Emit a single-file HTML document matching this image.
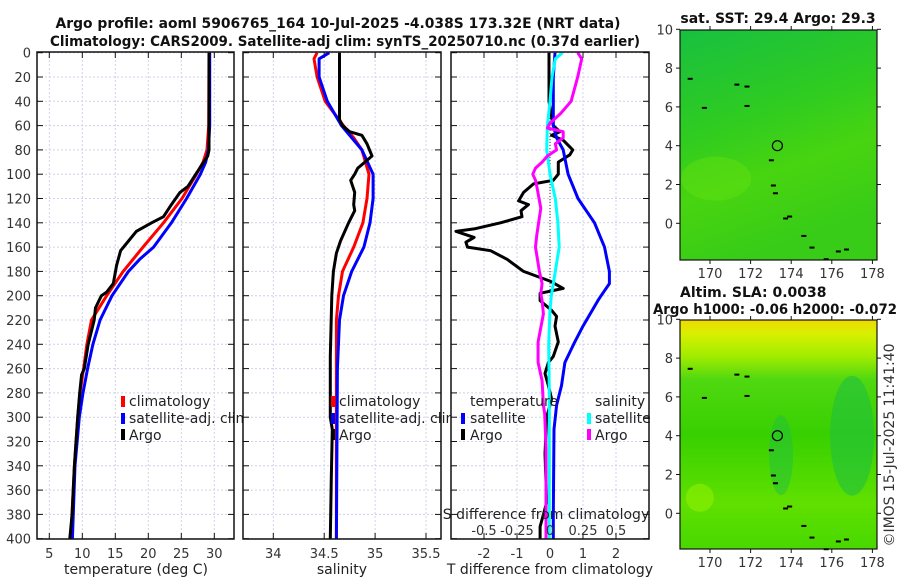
<!DOCTYPE html>
<html><head><meta charset="utf-8"><style>
html,body{margin:0;padding:0;background:#fff;}
svg{display:block;font-family:"DejaVu Sans","Liberation Sans",sans-serif;}
.tk{font-size:13px;fill:#333;}
.lab{font-size:14px;fill:#222;}
.ttl{font-size:14px;font-weight:bold;fill:#111;}
</style></head><body>
<svg id="fig" width="900" height="580" viewBox="0 0 900 580" xmlns="http://www.w3.org/2000/svg">
<defs>
<linearGradient id="g1" x1="0" y1="0" x2="0.3" y2="1">
<stop offset="0" stop-color="#18c040"/><stop offset="0.45" stop-color="#30cc20"/><stop offset="0.7" stop-color="#48d410"/><stop offset="1" stop-color="#38cc18"/></linearGradient>
<linearGradient id="g2" x1="0" y1="0" x2="0" y2="1">
<stop offset="0" stop-color="#f0d800"/><stop offset="0.06" stop-color="#d8f000"/><stop offset="0.16" stop-color="#a0ec00"/><stop offset="0.26" stop-color="#50d810"/><stop offset="0.5" stop-color="#38d000"/><stop offset="0.8" stop-color="#60e000"/><stop offset="1" stop-color="#48d800"/></linearGradient>
<clipPath id="c1"><rect x="37" y="52" width="197" height="487"/></clipPath>
<clipPath id="c2"><rect x="243" y="52" width="198" height="487"/></clipPath>
<clipPath id="c3"><rect x="451" y="52" width="198" height="487"/></clipPath>
</defs>
<g id="root"></g>
</svg>
<script>
// ---- data ----
const depthTicks=[0,20,40,60,80,100,120,140,160,180,200,220,240,260,280,300,320,340,360,380,400];
const tTicks=[5,10,15,20,25,30];
const sTicks=[34,34.5,35,35.5];
const sTickLabels=["34","34.5","35","35.5"];
const dTTicks=[-2,-1,0,1,2];
const dSTicks=[-0.5,-0.25,0,0.25,0.5];
const dSTickLabels=["-0.5","-0.25","0","0.25","0.5"];

const tClimD=[0,60,80,90,100,110,120,140,160,180,200,220,240,260,280,300,340,400];
const tClimV=[29.2,29.15,28.9,28.3,27.3,26.2,25.1,22.3,19.2,16.2,13.7,11.4,10.7,10.2,9.65,9.3,8.8,8.25];
const tSatD=[0,60,80,90,100,120,140,160,170,180,200,220,240,260,280,300,340,400];
const tSatV=[29.3,29.3,29.1,28.7,27.9,25.8,23.5,20.8,18.7,17.0,14.5,12.7,11.6,10.8,10.1,9.55,8.9,8.5];
const tArgoD=[0,80,85,90,100,110,115,125,135,140,147,155,163,175,190,197,200,210,220,240,260,265,280,300,340,380,400];
const tArgoV=[29.2,29.2,29.0,28.4,27.2,26.0,24.8,23.5,22.3,20.5,18.2,17.0,15.8,15.2,14.7,13.7,12.9,12.0,11.8,10.9,10.3,9.9,9.6,9.3,8.8,8.45,8.1];

const sClimD=[0,5,20,40,60,70,80,100,120,140,160,180,200,220,260,400];
const sClimV=[34.43,34.40,34.43,34.51,34.69,34.79,34.87,34.94,34.92,34.88,34.79,34.68,34.64,34.62,34.62,34.62];
const sSatD=[0,5,20,40,60,80,100,120,140,160,180,200,220,260,400];
const sSatV=[34.55,34.45,34.45,34.53,34.67,34.87,34.98,34.98,34.95,34.89,34.77,34.69,34.65,34.63,34.62];
const sArgoD=[0,55,60,65,68,75,85,90,95,100,105,115,125,130,140,155,165,180,200,250,300,310,350,400];
const sArgoV=[34.65,34.65,34.68,34.75,34.87,34.92,34.97,34.90,34.83,34.80,34.76,34.80,34.79,34.80,34.74,34.66,34.62,34.59,34.575,34.56,34.56,34.58,34.57,34.56];

const dTArgoD=[0,40,55,60,65,68,72,80,84,90,100,105,108,115,122,125,130,135,140,145,147,152,156,160,163,170,180,188,194,198,204,212,217,225,238,250,255,264,274,285,300,330,370,390,400];
const dTArgoV=[-0.03,-0.03,0.06,0.1,0.3,0.05,0.4,0.69,0.6,0.25,0.25,0.1,-0.5,-0.8,-0.95,-0.65,-0.88,-0.85,-1.5,-2.3,-2.85,-2.3,-2.55,-2.5,-1.8,-1.3,-0.8,0.0,0.4,-0.3,-0.3,0.05,0.2,0.15,0.25,0.1,-0.05,-0.15,-0.05,0.05,-0.1,-0.15,-0.1,-0.3,-0.3];
const dTSatD=[0,20,60,70,80,100,120,140,160,180,190,200,204,225,238,255,274,290,310,380,400];
const dTSatV=[0.15,0.1,0.1,0.2,0.4,0.55,0.85,1.35,1.65,1.8,1.8,1.55,1.45,1.0,0.75,0.45,0.35,0.2,0.12,0.1,0.1];
const dSSatD=[0,5,20,40,60,80,100,120,140,160,180,200,212,240,280,400];
const dSSatV=[0.095,0.04,0.015,0.0,-0.02,-0.025,0.0,0.04,0.06,0.07,0.04,0.01,0.0,-0.01,-0.005,-0.005];
const dSArgoD=[0,5,20,40,50,58,62,65,70,75,80,85,90,95,100,105,110,128,150,160,180,190,198,204,215,238,255,270,290,297,325,379,400];
const dSArgoV=[0.21,0.24,0.21,0.16,0.08,0.0,-0.02,0.1,0.1,0.04,0.05,-0.02,-0.06,-0.11,-0.13,-0.11,-0.1,-0.07,-0.1,-0.11,-0.08,-0.06,-0.07,-0.06,-0.05,-0.09,-0.09,-0.06,-0.05,-0.04,-0.03,-0.03,-0.03];

const lonTicks=[170,172,174,176,178];
const latTicks=[0,2,4,6,8,10];
const argoLon=173.32, argoLat=4.0;
const coastLon=[168.9,169.6,171.2,171.7,172.9,173.0,173.1,173.6,173.8,174.5,174.9,175.6,176.2,176.6,171.7];
const coastLat=[7.5,6.0,7.2,7.1,3.3,2.0,1.6,0.3,0.4,-0.6,-1.2,-1.8,-1.4,-1.3,6.1];

// ---- helpers ----
const NS="http://www.w3.org/2000/svg";
const root=document.getElementById('root');
function mk(tag,attrs,parent){const e=document.createElementNS(NS,tag);for(const k in attrs)e.setAttribute(k,attrs[k]);(parent||root).appendChild(e);return e;}
function txt(s,x,y,cls,anchor,parent){const e=mk('text',{x:x,y:y,class:cls,'text-anchor':anchor||'middle'},parent);e.textContent=s;return e;}
const Y0=52.7,YS=1.215;
function yD(d){return Y0+d*YS;}
function xT(v){return 49.3+(v-5)*6.6;}
function xS(v){return 273.3+(v-34)*101.8;}
function xDT(v){return 550+v*33;}
function xDS(v){return 550+v*132;}

function panel(name,x0,x1,gridXs,clip){
  const g=mk('g',{});
  
  
  mk('rect',{x:x0,y:52,width:x1-x0,height:487,fill:'#fff'},g);
  gridXs.forEach(gx=>{mk('line',{x1:gx,x2:gx,y1:52,y2:539,stroke:'#d0d0ec','stroke-width':1,'stroke-dasharray':'2,2'},g);});
  depthTicks.forEach(d=>{const y=yD(d);mk('line',{x1:x0,x2:x1,y1:y,y2:y,stroke:'#d0d0ec','stroke-width':1,'stroke-dasharray':'2,2'},g);
    mk('line',{x1:x0,x2:x0+6,y1:y,y2:y,stroke:'#111'},g);mk('line',{x1:x1-6,x2:x1,y1:y,y2:y,stroke:'#111'},g);});
  gridXs.forEach(gx=>{mk('line',{x1:gx,x2:gx,y1:52,y2:58,stroke:'#111'},g);mk('line',{x1:gx,x2:gx,y1:533,y2:539,stroke:'#111'},g);});
  return g;
}
function line(name,ds,vs,fx,color,w,parent,clip){
  const pts=ds.map((d,i)=>fx(vs[i]).toFixed(1)+','+yD(d).toFixed(1)).join(' ');
  const p=mk('polyline',{points:pts,fill:'none',stroke:color,'stroke-width':w,'stroke-linejoin':'round','clip-path':'url(#'+clip+')'},parent);
  
  
}
function frame(x0,x1,parent){mk('rect',{x:x0,y:52,width:x1-x0,height:487,fill:'none',stroke:'#111','stroke-width':1.5},parent);}
function legendMark(x,y,color,parent){mk('rect',{x:x-2,y:y-5,width:4,height:11,fill:color},parent);}

// Titles
const t1=txt('Argo profile: aoml 5906765_164 10-Jul-2025 -4.038S 173.32E (NRT data)',338,28,'ttl');
t1.setAttribute('textLength','565');t1.setAttribute('lengthAdjust','spacingAndGlyphs');

const t2=txt('Climatology: CARS2009. Satellite-adj clim: synTS_20250710.nc (0.37d earlier)',345,46,'ttl');
t2.setAttribute('textLength','590');t2.setAttribute('lengthAdjust','spacingAndGlyphs');


// Panel 1
const p1=panel('temperature-panel',37,234,tTicks.map(xT),'c1');
depthTicks.forEach(d=>{txt(String(d),31,yD(d)+5,'tk','end',p1);});
tTicks.forEach(v=>{txt(String(v),xT(v),558,'tk','middle',p1);});
txt('temperature (deg C)',136,574,'lab','middle',p1);
line('temp-climatology-line',tClimD,tClimV,xT,'#ff0000',3,p1,'c1');
line('temp-satellite-line',tSatD,tSatV,xT,'#0000ff',3,p1,'c1');
line('temp-argo-line',tArgoD,tArgoV,xT,'#000',3,p1,'c1');
const lg1=mk('g',{},p1);
legendMark(123,401,'#ff0000',lg1);txt('climatology',129,406,'lab','start',lg1);
legendMark(123,418,'#0000ff',lg1);txt('satellite-adj. clim',129,423,'lab','start',lg1);
legendMark(123,434,'#000',lg1);txt('Argo',129,440,'lab','start',lg1);
frame(37,234,p1);

// Panel 2
const p2=panel('salinity-panel',243,441,sTicks.map(xS),'c2');
sTicks.forEach((v,i)=>{txt(sTickLabels[i],xS(v),558,'tk','middle',p2);});
txt('salinity',342,574,'lab','middle',p2);
line('sal-climatology-line',sClimD,sClimV,xS,'#ff0000',3,p2,'c2');
line('sal-satellite-line',sSatD,sSatV,xS,'#0000ff',3,p2,'c2');
line('sal-argo-line',sArgoD,sArgoV,xS,'#000',3,p2,'c2');
const lg2=mk('g',{},p2);
legendMark(333,401,'#ff0000',lg2);txt('climatology',339,406,'lab','start',lg2);
legendMark(333,418,'#0000ff',lg2);txt('satellite-adj. clim',339,423,'lab','start',lg2);
legendMark(333,434,'#000',lg2);txt('Argo',339,440,'lab','start',lg2);
frame(243,441,p2);

// Panel 3
const p3=panel('difference-panel',451,649,dTTicks.map(xDT),'c3');
mk('line',{x1:550,x2:550,y1:52,y2:539,stroke:'#333','stroke-width':1,'stroke-dasharray':'1,2'},p3);
dTTicks.forEach(v=>{txt(String(v),xDT(v),558,'tk','middle',p3);});
txt('T difference from climatology',550,574,'lab','middle',p3);
line('dT-argo-line',dTArgoD,dTArgoV,xDT,'#000',3,p3,'c3');
line('dT-satellite-line',dTSatD,dTSatV,xDT,'#0000ff',3,p3,'c3');
line('dS-satellite-line',dSSatD,dSSatV,xDS,'#00ffff',3,p3,'c3');
line('dS-argo-line',dSArgoD,dSArgoV,xDS,'#ff00ff',3,p3,'c3');
txt('S difference from climatology',546,519,'lab','middle',p3);
dSTicks.forEach((v,i)=>{txt(dSTickLabels[i],xDS(v),535,'tk','middle',p3);});
const lg3=mk('g',{},p3);
txt('temperature',470,406,'lab','start',lg3);
legendMark(463,418,'#0000ff',lg3);txt('satellite',470,423,'lab','start',lg3);
legendMark(463,434,'#000',lg3);txt('Argo',470,440,'lab','start',lg3);
txt('salinity',595,406,'lab','start',lg3);
legendMark(589,418,'#00ffff',lg3);txt('satellite',595,423,'lab','start',lg3);
legendMark(589,434,'#ff00ff',lg3);txt('Argo',595,440,'lab','start',lg3);
frame(451,649,p3);

// Maps
function map(name,top,bottom,lat0y,grad){
  const g=mk('g',{});
  
  
  const L=680,R=877;
  const xL=v=>710+(v-170)*20.3;
  const yL=v=>lat0y-v*19.4;
  mk('rect',{x:L,y:top,width:R-L,height:bottom-top,fill:'url(#'+grad+')'},g);
  if(grad==='g2'){
    mk('ellipse',{cx:xL(177),cy:yL(4),rx:22,ry:60,fill:'#20c040',opacity:0.6},g);
    mk('ellipse',{cx:xL(173.5),cy:yL(3),rx:12,ry:40,fill:'#20c040',opacity:0.5},g);
    mk('ellipse',{cx:xL(169.5),cy:yL(0.8),rx:14,ry:14,fill:'#90f000',opacity:0.6},g);
  } else {
    mk('ellipse',{cx:xL(170.3),cy:yL(2.3),rx:35,ry:22,fill:'#60e010',opacity:0.5},g);
  }
  coastLon.forEach((lo,i)=>{const c=mk('rect',{x:xL(lo),y:yL(coastLat[i]),width:5,height:2,fill:'#000'},g);
    });
  const c=mk('circle',{cx:xL(argoLon),cy:yL(argoLat),r:5,fill:'none',stroke:'#000','stroke-width':1.2},g);
  
  mk('rect',{x:L,y:top,width:R-L,height:bottom-top,fill:'none',stroke:'#111','stroke-width':1.2},g);
  latTicks.forEach(v=>{const y=yL(v);if(y<top-1||y>bottom)return;
    mk('line',{x1:L-4,x2:L,y1:y,y2:y,stroke:'#111'},g);mk('line',{x1:R,x2:R+4,y1:y,y2:y,stroke:'#111'},g);
    txt(String(v),L-7,y+5,'tk','end',g);});
  lonTicks.forEach(v=>{const x=xL(v);mk('line',{x1:x,x2:x,y1:bottom,y2:bottom+4,stroke:'#111'},g);mk('line',{x1:x,x2:x,y1:top-4,y2:top,stroke:'#111'},g);
    txt(String(v),x,bottom+18,'tk','middle',g);});
  return g;
}
map('sst-map',30,260,223.3,'g1');
map('sla-map',320,549,513.3,'g2');
const mt1=txt('sat. SST: 29.4 Argo: 29.3',778,23,'ttl');
const mt2=txt('Altim. SLA: 0.0038',680,297,'ttl','start');
const mt3=txt('Argo h1000: -0.06 h2000: -0.072',653,314,'ttl','start');
mt3.setAttribute('textLength','244');mt3.setAttribute('lengthAdjust','spacingAndGlyphs');

const cp=txt('©IMOS 15-Jul-2025 11:41:40',0,0,'tk','middle');
cp.setAttribute('transform','translate(894,445) rotate(-90)');
cp.setAttribute('style','font-size:14px');

</script>
</body></html>
